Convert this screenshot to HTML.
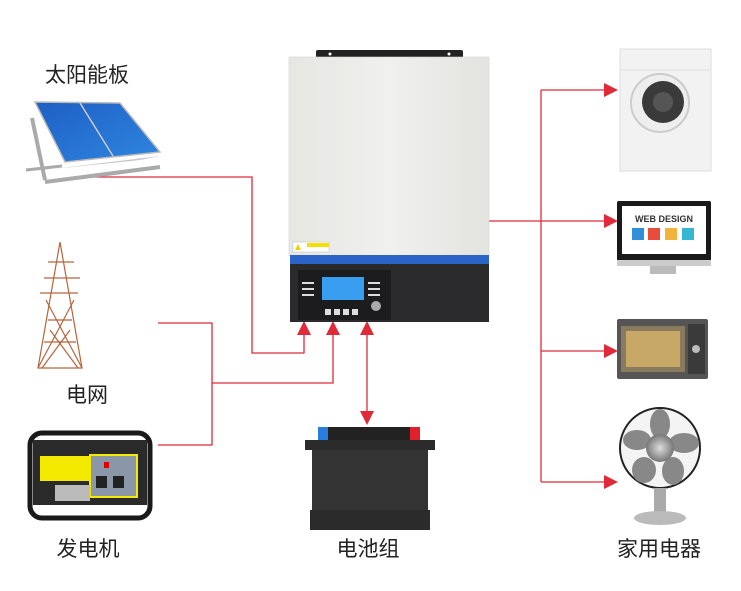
<!DOCTYPE html>
<html><head><meta charset="utf-8"><style>
html,body{margin:0;padding:0;background:#fff;}
body{width:741px;height:586px;overflow:hidden;}
svg text{font-family:"Liberation Sans","Noto Sans CJK SC",sans-serif;fill:#222;font-size:21px;}
</style></head><body>
<svg width="741" height="586" viewBox="0 0 741 586" xmlns="http://www.w3.org/2000/svg">
<defs>
<linearGradient id="inv" x1="0" x2="1"><stop offset="0" stop-color="#e6e6e3"/><stop offset="0.5" stop-color="#f0f0ee"/><stop offset="1" stop-color="#e3e3e0"/></linearGradient>
<linearGradient id="sol" x1="0" x2="1" y1="0" y2="1"><stop offset="0" stop-color="#1d5fc4"/><stop offset="1" stop-color="#2f86e0"/></linearGradient>
<radialGradient id="fan"><stop offset="0" stop-color="#ddd"/><stop offset="1" stop-color="#777"/></radialGradient>
</defs>

<g stroke="#e02a3a" stroke-width="1.3" fill="none">
<polyline points="90,177 252,177 252,353 304,353 304,334"/>
<polyline points="158,323 212,323 212,445 158,445"/>
<polyline points="212,383 333,383 333,334"/>
<line x1="367" y1="334" x2="367" y2="413"/>
<line x1="489" y1="221" x2="541" y2="221"/>
<line x1="541" y1="90" x2="541" y2="482"/>
<line x1="541" y1="90" x2="605" y2="90"/>
<line x1="541" y1="221" x2="605" y2="221"/>
<line x1="541" y1="351" x2="605" y2="351"/>
<line x1="541" y1="482" x2="605" y2="482"/>
</g>
<g fill="#e02a3a">
<polygon points="304,321 297,335 311,335"/>
<polygon points="333,321 326,335 340,335"/>
<polygon points="367,321 360,335 374,335"/>
<polygon points="367,425 360,411 374,411"/>
<polygon points="618,90 604,83 604,97"/>
<polygon points="618,221 604,214 604,228"/>
<polygon points="618,351 604,344 604,358"/>
<polygon points="618,482 604,475 604,489"/>
</g>

<rect x="316" y="50" width="147" height="8" rx="2" fill="#222"/>
<circle cx="330" cy="54" r="1.5" fill="#fff"/><circle cx="449" cy="54" r="1.5" fill="#fff"/>
<rect x="289" y="57" width="200" height="199" fill="url(#inv)" stroke="#d6d6d3" stroke-width="0.6"/>
<rect x="293" y="242" width="36" height="10" fill="#fff" stroke="#bbb" stroke-width="0.5"/>
<rect x="307" y="243" width="22" height="4" fill="#f2e000"/>
<polygon points="295,250 298,244 301,250" fill="#f2d000"/>
<rect x="290" y="255" width="199" height="10" fill="#2b64c8"/>
<rect x="290" y="264" width="199" height="58" fill="#2a2a2c"/>
<rect x="298" y="270" width="93" height="50" fill="#1c1c1e"/>
<rect x="322" y="277" width="42" height="23" fill="#3a9ef0"/>
<g fill="#ddd">
<rect x="302" y="282" width="12" height="2"/><rect x="302" y="288" width="12" height="2"/><rect x="302" y="294" width="12" height="2"/>
<rect x="368" y="282" width="12" height="2"/><rect x="368" y="288" width="12" height="2"/><rect x="368" y="294" width="12" height="2"/>
<rect x="325" y="309" width="6" height="6"/><rect x="334" y="309" width="6" height="6"/><rect x="343" y="309" width="6" height="6"/><rect x="352" y="309" width="6" height="6"/>
</g>
<circle cx="376" cy="306" r="5" fill="#aaa"/>

<polygon points="24,172 45,170 160,156 140,160" fill="#aab" opacity="0.7"/>
<polygon points="35,102 120,103 160,152 65,162" fill="url(#sol)" stroke="#bbb" stroke-width="1.5"/>
<line x1="80" y1="103" x2="113" y2="156" stroke="#ccc" stroke-width="1.5"/>
<line x1="32" y1="118" x2="45" y2="180" stroke="#aaa" stroke-width="4"/>
<line x1="45" y1="182" x2="160" y2="167" stroke="#aaa" stroke-width="4"/>
<line x1="26" y1="170" x2="62" y2="166" stroke="#aaa" stroke-width="3"/>

<!-- tower -->
<g stroke="#b8643a" stroke-width="1.2" fill="none">
<polyline points="60,242 38,368 82,368 60,242"/>
<line x1="38" y1="368" x2="74" y2="300"/><line x1="82" y1="368" x2="46" y2="300"/>
<line x1="40" y1="293" x2="78" y2="293"/><line x1="44" y1="278" x2="80" y2="278"/><line x1="48" y1="262" x2="74" y2="262"/>
<line x1="48" y1="320" x2="72" y2="320"/><line x1="44" y1="342" x2="76" y2="342"/>
<line x1="42" y1="368" x2="70" y2="330"/><line x1="78" y1="368" x2="50" y2="330"/>
</g>

<rect x="30" y="433" width="120" height="85" rx="12" fill="none" stroke="#1a1a1a" stroke-width="5"/>
<rect x="33" y="440" width="114" height="65" fill="#2a2a2a"/>
<rect x="40" y="456" width="50" height="25" fill="#f4ea00"/>
<rect x="90" y="455" width="47" height="42" fill="#8a97a8" stroke="#f4ea00" stroke-width="2"/>
<rect x="96" y="476" width="11" height="12" fill="#222"/><rect x="113" y="476" width="11" height="12" fill="#222"/>
<rect x="104" y="462" width="5" height="6" fill="#d00"/>
<rect x="55" y="485" width="35" height="16" fill="#bbb"/>

<rect x="318" y="427" width="102" height="13" fill="#222"/>
<rect x="318" y="427" width="10" height="13" fill="#2a7de0"/>
<rect x="410" y="427" width="10" height="13" fill="#e0202a"/>
<rect x="305" y="440" width="130" height="10" fill="#2b2b2b"/>
<rect x="312" y="450" width="116" height="62" fill="#333"/>
<rect x="310" y="510" width="120" height="20" fill="#2b2b2b"/>

<rect x="620" y="49" width="91" height="122" fill="#f2f2f2" stroke="#ddd"/>
<line x1="620" y1="70" x2="711" y2="70" stroke="#ddd"/>
<circle cx="660" cy="103" r="29" fill="#eee" stroke="#ccc" stroke-width="2"/>
<circle cx="663" cy="102" r="21" fill="#3a3a3a"/>
<circle cx="663" cy="102" r="10" fill="#555"/>

<rect x="617" y="201" width="94" height="60" rx="2" fill="#1a1a1a"/>
<rect x="622" y="206" width="84" height="48" fill="#fff"/>
<text x="664" y="222" text-anchor="middle" style="font-size:9px;font-weight:bold;fill:#333">WEB DESIGN</text>
<rect x="632" y="228" width="12" height="12" fill="#2f8fd8"/><rect x="648" y="228" width="12" height="12" fill="#e94c3d"/>
<rect x="665" y="228" width="12" height="12" fill="#f3b23a"/><rect x="682" y="228" width="12" height="12" fill="#35b7d4"/>
<rect x="617" y="260" width="94" height="6" fill="#ccc"/>
<rect x="650" y="266" width="26" height="8" fill="#bbb"/>

<rect x="617" y="319" width="91" height="60" rx="2" fill="#555"/>
<rect x="621" y="326" width="64" height="46" fill="#8a7a5e"/>
<rect x="626" y="331" width="54" height="36" fill="#c8a866"/>
<rect x="688" y="324" width="17" height="50" fill="#3a3a3a"/>
<circle cx="696" cy="349" r="4" fill="#bbb"/>

<circle cx="660" cy="448" r="40" fill="#f4f4f4" stroke="#222" stroke-width="2"/>
<g fill="#888">
<ellipse cx="660" cy="424" rx="10" ry="15"/><ellipse cx="684" cy="443" rx="15" ry="10"/>
<ellipse cx="673" cy="471" rx="11" ry="14"/><ellipse cx="644" cy="470" rx="12" ry="13"/>
<ellipse cx="637" cy="440" rx="14" ry="10"/>
</g>
<circle cx="660" cy="448" r="14" fill="url(#fan)"/>
<rect x="654" y="488" width="12" height="28" fill="#aaa"/>
<ellipse cx="660" cy="518" rx="26" ry="7" fill="#bbb"/>

<text x="87" y="82" text-anchor="middle">太阳能板</text>
<text x="87" y="402" text-anchor="middle">电网</text>
<text x="88" y="556" text-anchor="middle">发电机</text>
<text x="368" y="556" text-anchor="middle">电池组</text>
<text x="659" y="556" text-anchor="middle">家用电器</text>
</svg>
</body></html>
